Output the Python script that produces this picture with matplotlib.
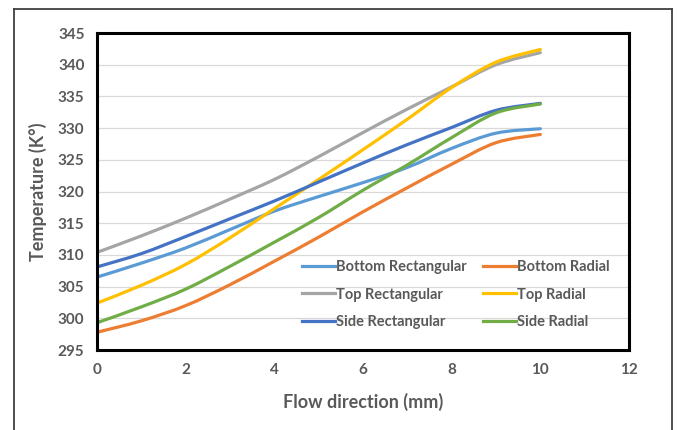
import matplotlib
matplotlib.use("Agg")
import matplotlib.pyplot as plt
from matplotlib.lines import Line2D
from matplotlib.path import Path
from matplotlib.patches import PathPatch

# Position along the flow direction (mm)
flow_mm = [0, 1, 2, 3, 4, 5, 6, 7, 8, 9, 10]

# Temperatures (K) for each sensor location / fin type
bottom_rectangular = [306.5, 308.7, 311.1, 314.0, 316.9, 319.2, 321.4, 323.8, 326.8, 329.2, 329.9]
bottom_radial      = [297.8, 299.6, 302.0, 305.3, 309.0, 312.8, 316.8, 320.6, 324.3, 327.7, 329.0]
top_rectangular    = [310.4, 313.0, 315.8, 318.8, 321.9, 325.5, 329.3, 333.0, 336.5, 340.0, 341.9]
top_radial         = [302.4, 305.2, 308.5, 312.7, 317.3, 321.9, 326.6, 331.4, 336.4, 340.4, 342.4]
side_rectangular   = [308.1, 310.2, 312.9, 315.7, 318.5, 321.5, 324.5, 327.4, 330.1, 332.8, 333.9]
side_radial        = [299.3, 301.8, 304.6, 308.2, 312.0, 315.9, 320.2, 324.2, 328.5, 332.4, 333.8]

series = [
    ("Bottom Rectangular", bottom_rectangular, "#5B9BD5"),
    ("Bottom Radial", bottom_radial, "#ED7D31"),
    ("Top Rectangular", top_rectangular, "#A5A5A5"),
    ("Top Radial", top_radial, "#FFC000"),
    ("Side Rectangular", side_rectangular, "#4472C4"),
    ("Side Radial", side_radial, "#70AD47"),
]

x_ticks = [0, 2, 4, 6, 8, 10, 12]
y_ticks = [295, 300, 305, 310, 315, 320, 325, 330, 335, 340, 345]

LW = 2.3


def smooth_path(xs, ys):
    """Smoothed line through the points, as cubic Bezier segments."""
    pts = list(zip(xs, ys))
    n = len(pts)
    verts = [pts[0]]
    codes = [Path.MOVETO]
    for i in range(n - 1):
        p0 = pts[i - 1] if i > 0 else pts[i]
        p1 = pts[i]
        p2 = pts[i + 1]
        p3 = pts[i + 2] if i + 2 < n else pts[i + 1]
        c1 = (p1[0] + (p2[0] - p0[0]) / 6, p1[1] + (p2[1] - p0[1]) / 6)
        c2 = (p2[0] - (p3[0] - p1[0]) / 6, p2[1] - (p3[1] - p1[1]) / 6)
        verts += [c1, c2, p2]
        codes += [Path.CURVE4] * 3
    return Path(verts, codes)


plt.rcParams["font.family"] = ["Lato", "DejaVu Sans"]
text_color = "#595959"

fig = plt.figure(figsize=(6.77, 4.30), dpi=100)
W, H = 677, 430
ax = fig.add_axes([97 / W, 1 - 350 / H, (629 - 97) / W, (350 - 33) / H])

handles = {}
for label, vals, color in series:
    patch = PathPatch(smooth_path(flow_mm, vals), facecolor="none", edgecolor=color,
                      lw=LW, capstyle="round", joinstyle="round", zorder=3)
    ax.add_patch(patch)
    handles[label] = Line2D([], [], color=color, lw=LW)

ax.set_xlim(0, 12)
ax.set_ylim(295, 345)
ax.set_xticks(x_ticks)
ax.set_yticks(y_ticks)
ax.tick_params(length=0, pad=9, labelsize=11, labelcolor=text_color)
for lbl in ax.get_xticklabels() + ax.get_yticklabels():
    lbl.set_fontweight("bold")
ax.grid(axis="y", color="#D9D9D9", lw=0.9)
ax.set_axisbelow(True)
for sp in ax.spines.values():
    sp.set_linewidth(2.2)
    sp.set_color("black")
    sp.set_zorder(4)

ax.set_xlabel("Flow direction (mm)", fontsize=13, fontweight="bold",
              color=text_color, labelpad=12)
ax.set_ylabel("Temperature (K°)", fontsize=13, fontweight="bold",
              color=text_color, labelpad=8)

# Legend rows: Bottom / Top / Side, columns: Rectangular / Radial
order = ["Bottom Rectangular", "Top Rectangular", "Side Rectangular",
         "Bottom Radial", "Top Radial", "Side Radial"]
leg = ax.legend([handles[k] for k in order], order, loc="center",
                bbox_to_anchor=(0.675, 0.175), ncol=2, frameon=False,
                fontsize=10.5, handlelength=2.25, handletextpad=0.1,
                columnspacing=1.1, labelspacing=0.95)
for t in leg.get_texts():
    t.set_color(text_color)
    t.set_fontweight("bold")

# Outer chart frame
frame_kw = dict(color="#404040", lw=1.3, transform=fig.transFigure)
x0, x1, y1 = 13.5 / W, 672 / W, 1 - 8.5 / H
fig.add_artist(Line2D([x0, x0], [-0.01, y1], **frame_kw))
fig.add_artist(Line2D([x0, x1], [y1, y1], **frame_kw))
fig.add_artist(Line2D([x1, x1], [-0.01, y1], **frame_kw))

fig.savefig("out.png", dpi=100)
